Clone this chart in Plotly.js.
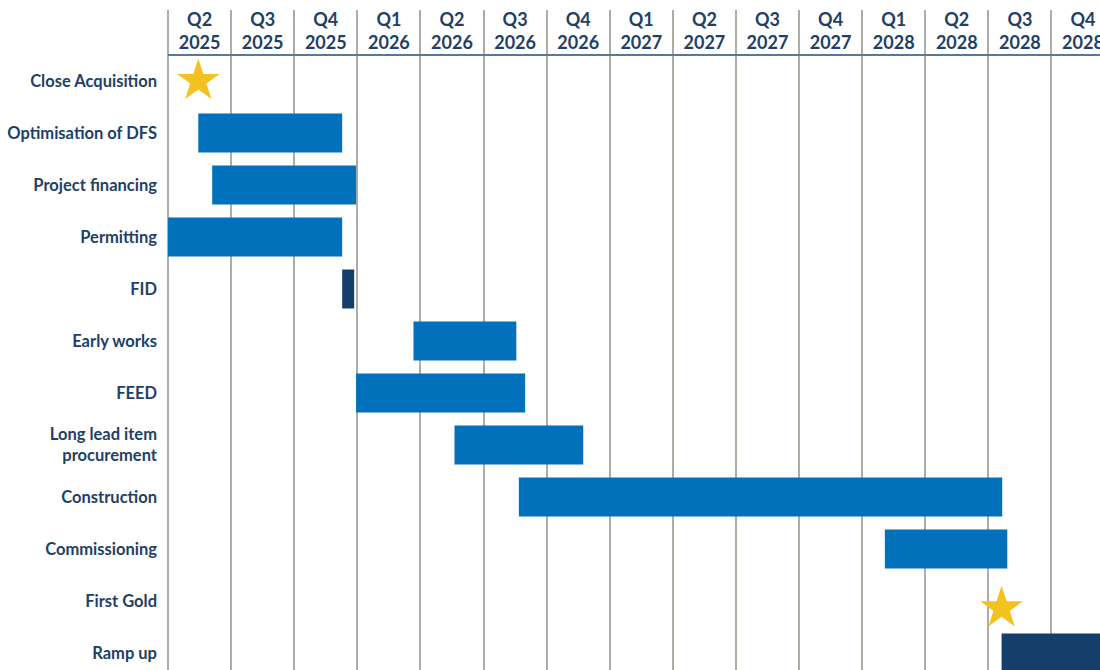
<!DOCTYPE html>
<html>
<head>
<meta charset="utf-8">
<script src="https://cdn.plot.ly/plotly-3.0.1.min.js"></script>
<style>html,body{margin:0;padding:0;background:#fff;overflow:hidden}#chart{width:1130px;height:670px}</style>
</head>
<body>
<div id="chart"></div>
<script>
// Quarter columns (x unit = 1 quarter, 0 = start of Q2 2025)
const quarterLabels = ["Q2<br>2025","Q3<br>2025","Q4<br>2025","Q1<br>2026","Q2<br>2026","Q3<br>2026","Q4<br>2026",
  "Q1<br>2027","Q2<br>2027","Q3<br>2027","Q4<br>2027","Q1<br>2028","Q2<br>2028","Q3<br>2028","Q4<br>2028"];

// Rows, top to bottom
const tasks = ["Close Acquisition","Optimisation of DFS","Project financing","Permitting","FID","Early works","FEED",
  "Long lead item<br>procurement","Construction","Commissioning","First Gold","Ramp up"];

// Activity bars (start / end in quarters from start of Q2 2025)
const barTasks  = ["Optimisation of DFS","Project financing","Permitting","FID","Early works","FEED",
  "Long lead item<br>procurement","Construction","Commissioning","Ramp up"];
const barStart  = [0.48, 0.70, 0.00, 2.76, 3.89, 2.98, 4.54, 5.56, 11.36, 13.21];
const barEnd    = [2.76, 2.98, 2.76, 2.95, 5.52, 5.66, 6.58, 13.22, 13.30, 16.00];
const barKind   = ["activity","activity","activity","decision","activity","activity","activity","activity","activity","operation"];

// Milestones (stars)
const milestoneTasks = ["Close Acquisition","First Gold"];
const milestoneAt    = [0.48, 13.21];
const milestoneRowShift = [0, 0.14];

const BLUE = "#0071BA", NAVY = "#143F6A", GOLD = "#F4C21F", TEXT = "#1E3F66";
const rowOf = t => tasks.indexOf(t);

function barTrace(filterFn, color){
  const idx = barTasks.map((t,i)=>i).filter(i=>filterFn(barKind[i]));
  return {
    type:"bar", orientation:"h",
    y: idx.map(i=>rowOf(barTasks[i])),
    base: idx.map(i=>barStart[i]),
    x: idx.map(i=>barEnd[i]-barStart[i]),
    width: 0.75,
    marker:{color:color, line:{width:0}},
    hoverinfo:"skip", showlegend:false
  };
}

const traces = [
  barTrace(k=>k==="activity", BLUE),
  barTrace(k=>k!=="activity", NAVY),
  {
    type:"scatter", mode:"markers", xaxis:"x2",
    x: milestoneAt,
    y: milestoneTasks.map((t,i)=>rowOf(t)+milestoneRowShift[i]),
    marker:{symbol:"star", size:32, color:GOLD, line:{width:0}},
    hoverinfo:"skip", showlegend:false, cliponaxis:false
  }
];

// plot spans 166px..1130px, 63.1 px per quarter
const xRange = [-0.032, 15.245];
const FONT = "Lato, 'Open Sans', sans-serif";

const layout = {
  width:1130, height:670,
  margin:{l:166, r:0, t:10, b:0},
  paper_bgcolor:"#fff", plot_bgcolor:"#fff",
  barmode:"overlay",
  xaxis:{
    range:xRange, tickmode:"linear", tick0:0, dtick:1,
    showgrid:true, gridcolor:"#ADADA4", gridwidth:2,
    showticklabels:false, ticks:"", zeroline:false, showline:false, fixedrange:true
  },
  xaxis2:{
    overlaying:"x", side:"top", anchor:"y", range:xRange,
    tickmode:"array",
    tickvals: quarterLabels.map((q,i)=>i+0.5),
    ticktext: quarterLabels,
    ticklabelposition:"inside", ticks:"",
    showgrid:false, zeroline:false, showline:false,
    tickfont:{family:FONT, size:18, weight:"bold", color:TEXT}
  },
  yaxis:{
    range:[11.327, -1.365],
    tickmode:"array",
    tickvals: tasks.map((t,i)=>i),
    ticktext: tasks,
    showgrid:false, zeroline:false, showline:false, ticks:"",
    ticklabelstandoff:8,
    tickfont:{family:FONT, size:16.5, weight:"bold", color:TEXT}
  },
  shapes:[{
    type:"line", xref:"paper", x0:0.002, x1:1, yref:"y", y0:-0.5, y1:-0.5,
    line:{color:"#56799A", width:2}
  }]
};

Plotly.newPlot("chart", traces, layout, {staticPlot:true, displayModeBar:false});
</script>
</body>
</html>
